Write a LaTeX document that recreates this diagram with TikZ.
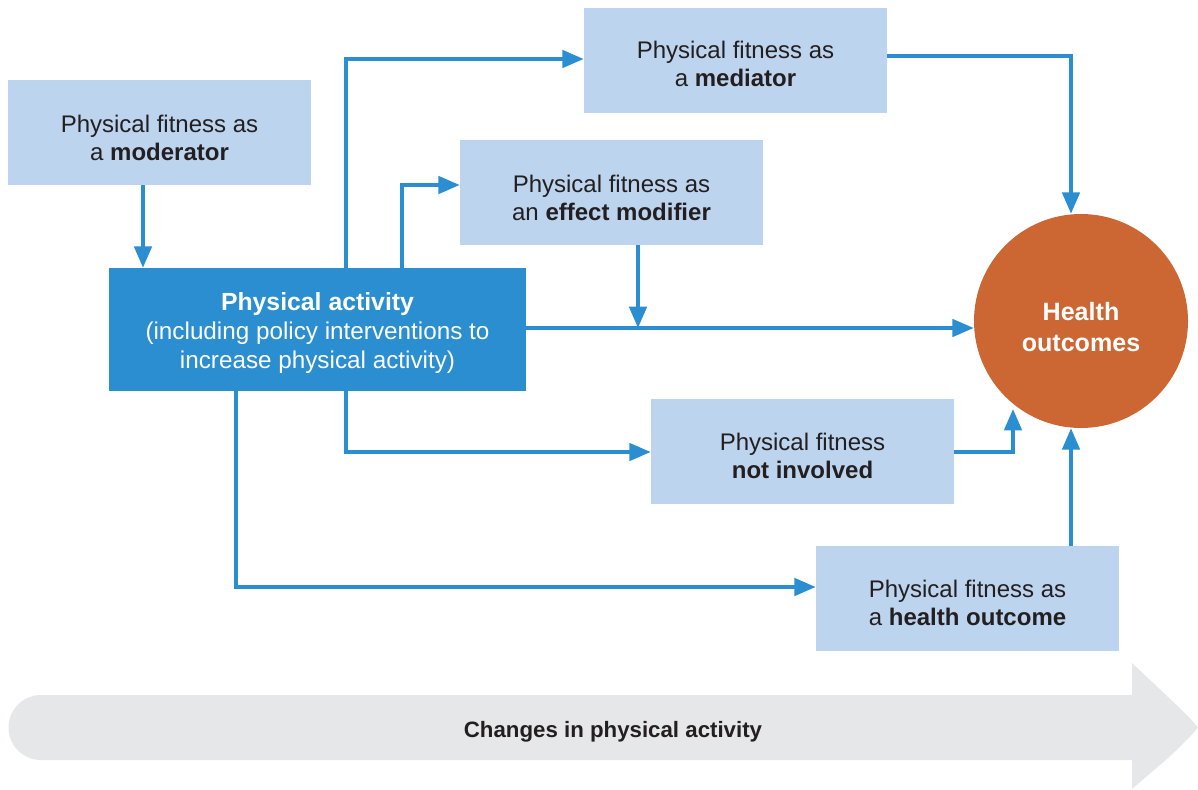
\documentclass[tikz,border=0pt]{standalone}
\usepackage{fontspec}
\setmainfont{Liberation Sans}
\usetikzlibrary{arrows.meta}
\definecolor{lightbox}{HTML}{BDD4EE}
\definecolor{darkbox}{HTML}{2A8ED0}
\definecolor{arrowc}{HTML}{2A8ED0}
\definecolor{health}{HTML}{CC6633}
\definecolor{greyarrow}{HTML}{E6E7E8}
\definecolor{textc}{HTML}{231F20}
\tikzset{
  lbox/.style={fill=lightbox, draw=none, minimum width=303*0.75pt, minimum height=105*0.75pt, inner sep=0pt},
  ltext/.style={align=center, font=\fontsize{18}{21}\selectfont, text=textc, inner sep=0pt},
  conn/.style={draw=arrowc, line width=2.7pt, -{Triangle[length=16pt,width=13pt]}},
}
\begin{document}
\begin{tikzpicture}[x=0.75pt,y=-0.75pt]
\useasboundingbox (0,0) rectangle (1198,789);
% bottom grey arrow
\fill[greyarrow] (41,695) -- (1132,695) -- (1132,663) -- (1168,697)
  .. controls (1182,710) and (1190,718) .. (1198,727.5)
  .. controls (1190,737) and (1182,745) .. (1168,758)
  -- (1132,789) -- (1132,760) -- (41,760) arc[start angle=90, end angle=270, radius=32.5] -- cycle;
\node[font=\fontsize{16.7}{18}\selectfont\bfseries, text=textc] (chg) at (613,732) {Changes in physical activity};

% boxes
\node[lbox] (mod) at (159.5,132.5) {};
\node[lbox] (med) at (735.5,60.5) {};
\node[lbox] (eff) at (611.5,192.5) {};
\node[lbox] (not) at (802.5,451.5) {};
\node[lbox] (hob) at (967.5,598.5) {};
\node[ltext] (modt) at (159.5,138) {Physical fitness as\\a \textbf{moderator}};
\node[ltext] (medt) at (735.5,64) {Physical fitness as\\a \textbf{mediator}};
\node[ltext] (efft) at (611.5,198) {Physical fitness as\\an \textbf{effect modifier}};
\node[ltext] (nott) at (802.5,456) {Physical fitness\\\textbf{not involved}};
\node[ltext] (hobt) at (967.5,603) {Physical fitness as\\a \textbf{health outcome}};
\node[fill=darkbox, minimum width=417*0.75pt, minimum height=123*0.75pt, inner sep=0pt] (pa) at (317.5,329.5) {};
\node[align=center, text=white, inner sep=0pt, font=\fontsize{18.2}{22}\selectfont] (pat) at (317.5,333) {{\fontsize{18.6}{22}\selectfont\bfseries Physical activity}\\(including policy interventions to\\increase physical activity)};
\node[circle, fill=health, minimum size=214*0.75pt, inner sep=0pt] (ho) at (1081,321) {};
\node[align=center, text=white, inner sep=0pt, font=\fontsize{18.8}{23}\selectfont\bfseries] (hot) at (1081,327) {Health\\outcomes};

% coordinates
\coordinate (j1) at (638,328);
\coordinate (hoin) at (1013,409);
% connectors
\draw[conn] (mod.south -| 143,0) -- (pa.north -| 143,0);
\draw[conn] (pa.north -| 346,0) |- (med.west |- 0,59);
\draw[conn] (pa.north -| 402,0) |- (eff.west |- 0,185);
\draw[conn] (eff.south -| 638,0) -- (j1);
\draw[conn] (pa.east |- 0,328) -- (ho.west |- 0,328);
\draw[conn] (pa.south -| 346,0) |- (not.west |- 0,452);
\draw[conn] (not.east |- 0,452) -| (hoin);
\draw[conn] (pa.south -| 236,0) |- (hob.west |- 0,587);
\draw[conn] (hob.north -| 1071,0) -- (ho.south -| 1071,0);
\draw[conn] (med.east |- 0,56) -| (ho.north -| 1071,0);
\end{tikzpicture}
\end{document}
